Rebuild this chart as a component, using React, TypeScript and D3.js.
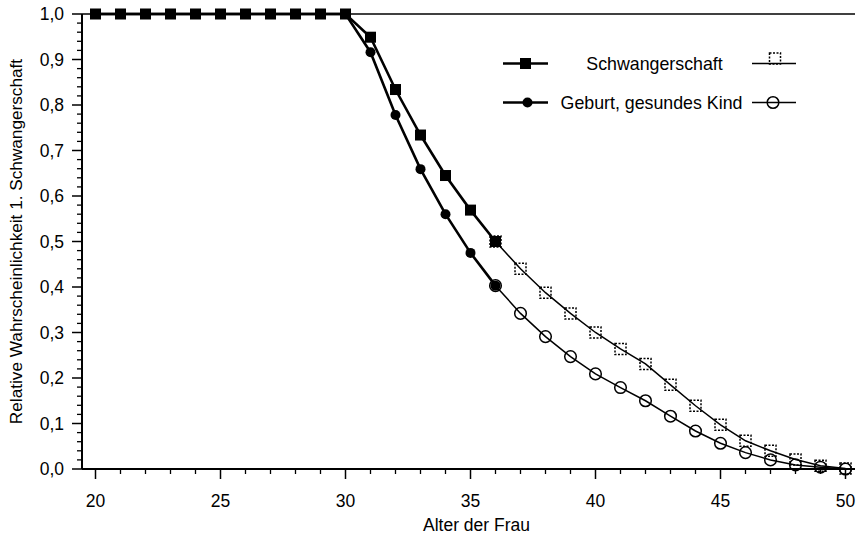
import React from "react";
import * as d3 from "d3";

const ages = [20, 21, 22, 23, 24, 25, 26, 27, 28, 29, 30, 31, 32, 33, 34, 35, 36, 37, 38, 39, 40, 41, 42, 43, 44, 45, 46, 47, 48, 49, 50];
const pregnancy = [1, 1, 1, 1, 1, 1, 1, 1, 1, 1, 1, 0.949, 0.834, 0.734, 0.645, 0.569, 0.5, 0.44, 0.3875, 0.342, 0.3, 0.264, 0.231, 0.185, 0.139, 0.097, 0.062, 0.04, 0.021, 0.007, 0.001];
const birth = [1, 1, 1, 1, 1, 1, 1, 1, 1, 1, 1, 0.916, 0.778, 0.659, 0.56, 0.475, 0.403, 0.342, 0.291, 0.247, 0.209, 0.179, 0.15, 0.116, 0.0835, 0.0565, 0.036, 0.02, 0.009, 0.004, 0.0];
const lastObservedAge = 36;
const xTickValues = [20, 25, 30, 35, 40, 45, 50];
const yTickValues = [0, 0.1, 0.2, 0.3, 0.4, 0.5, 0.6, 0.7, 0.8, 0.9, 1.0];
const legendLabels = ["Schwangerschaft", "Geburt, gesundes Kind"];
const xTitle = "Alter der Frau";
const yTitle = "Relative Wahrscheinlichkeit 1. Schwangerschaft";

const W = 856;
const H = 534;
const FONT = "'Liberation Sans', Arial, sans-serif";

export default function App() {
  const x = d3.scaleLinear().domain([20, 50]).range([95.5, 845.5]);
  const y = d3.scaleLinear().domain([0, 1]).range([469, 14]);
  const axisX = 82;
  const rightEdge = 855;

  type P = { a: number; v: number };
  const mk = (vals: number[]): P[] => ages.map((a, i) => ({ a, v: vals[i] }));
  const pData = mk(pregnancy);
  const bData = mk(birth);
  const solid = (d: P[]) => d.filter((p) => p.a <= lastObservedAge);
  const open = (d: P[]) => d.filter((p) => p.a >= lastObservedAge);

  const line = d3
    .line<P>()
    .x((p) => x(p.a))
    .y((p) => y(p.v));

  const minorY = d3.range(0, 1.0001, 0.02).filter((v) => Math.abs(Math.round(v * 10) - v * 10) > 1e-6);
  const minorX = ages.filter((a) => a % 5 !== 0);

  const sq = 11;
  const fmt = (v: number) => v.toFixed(1).replace(".", ",");

  const openSquare = (cx: number, cy: number, key: string | number) => (
    <rect
      key={key}
      x={cx - 5.5}
      y={cy - 5.5}
      width={11}
      height={11}
      fill="none"
      stroke="#000"
      strokeWidth={1.5}
      strokeDasharray="2,1.5"
    />
  );
  const openCircle = (cx: number, cy: number, key: string | number) => (
    <circle key={key} cx={cx} cy={cy} r={5.8} fill="none" stroke="#000" strokeWidth={1.5} />
  );

  const leg1y = 63.5;
  const leg2y = 102.5;

  return (
    <svg
      width={W}
      height={H}
      style={{ position: "absolute", left: 0, top: 0, background: "#fff" }}
      fontFamily={FONT}
    >
      <rect x={0} y={0} width={W} height={H} fill="#fff" />
      {/* frame lines */}
      <line x1={axisX} x2={rightEdge} y1={y(1)} y2={y(1)} stroke="#000" strokeWidth={1.5} />
      <line x1={axisX} x2={rightEdge} y1={y(0)} y2={y(0)} stroke="#000" strokeWidth={2} />
      <line x1={axisX} x2={axisX} y1={y(1)} y2={y(0)} stroke="#000" strokeWidth={2} />

      {/* y ticks */}
      {yTickValues.map((v) => (
        <g key={"yt" + v}>
          <line x1={axisX - 10} x2={axisX} y1={y(v)} y2={y(v)} stroke="#000" strokeWidth={1.5} />
          <text x={64} y={y(v)} dy="0.35em" textAnchor="end" fontSize={17.5}>
            {fmt(v)}
          </text>
        </g>
      ))}
      {minorY.map((v, i) => (
        <line key={"ym" + i} x1={axisX - 5} x2={axisX} y1={y(v)} y2={y(v)} stroke="#000" strokeWidth={1.3} />
      ))}

      {/* x ticks */}
      {xTickValues.map((a) => (
        <g key={"xt" + a}>
          <line x1={x(a)} x2={x(a)} y1={y(0)} y2={y(0) + 10} stroke="#000" strokeWidth={1.5} />
          <text x={x(a)} y={507} textAnchor="middle" fontSize={17.5}>
            {a}
          </text>
        </g>
      ))}
      {minorX.map((a) => (
        <line key={"xm" + a} x1={x(a)} x2={x(a)} y1={y(0)} y2={y(0) + 5} stroke="#000" strokeWidth={1.3} />
      ))}

      {/* titles */}
      <text x={(x(20) + x(50)) / 2 + 6} y={531} textAnchor="middle" fontSize={17.5}>
        {xTitle}
      </text>
      <text
        transform={`translate(22, ${(y(0) + y(1)) / 2}) rotate(-90)`}
        textAnchor="middle"
        fontSize={17.2}
      >
        {yTitle}
      </text>

      {/* open (extrapolated) parts */}
      <path d={line(open(pData)) || ""} fill="none" stroke="#000" strokeWidth={1.5} />
      <path d={line(open(bData)) || ""} fill="none" stroke="#000" strokeWidth={1.5} />
      {open(pData).map((p) => openSquare(x(p.a), y(p.v), "os" + p.a))}
      {open(bData).map((p) => openCircle(x(p.a), y(p.v), "oc" + p.a))}

      {/* solid (observed) parts */}
      <path d={line(solid(bData)) || ""} fill="none" stroke="#000" strokeWidth={2.6} />
      <path d={line(solid(pData)) || ""} fill="none" stroke="#000" strokeWidth={2.6} />
      {solid(bData).map((p) => (
        <circle key={"fc" + p.a} cx={x(p.a)} cy={y(p.v)} r={5} fill="#000" />
      ))}
      {solid(pData).map((p) => (
        <rect key={"fs" + p.a} x={x(p.a) - sq / 2} y={y(p.v) - sq / 2} width={sq} height={sq} fill="#000" />
      ))}

      {/* legend */}
      <line x1={503} x2={548} y1={leg1y} y2={leg1y} stroke="#000" strokeWidth={2.6} />
      <rect x={525.5 - sq / 2} y={leg1y - sq / 2} width={sq} height={sq} fill="#000" />
      <text x={654.5} y={leg1y} dy="0.35em" textAnchor="middle" fontSize={17.8}>
        {legendLabels[0]}
      </text>
      <line x1={752} x2={796} y1={leg1y} y2={leg1y} stroke="#000" strokeWidth={1.5} />
      {openSquare(775, leg1y - 5, "lsq")}

      <line x1={503} x2={548} y1={leg2y} y2={leg2y} stroke="#000" strokeWidth={2.6} />
      <circle cx={527.5} cy={leg2y} r={5} fill="#000" />
      <text x={651.5} y={leg2y} dy="0.35em" textAnchor="middle" fontSize={17.8}>
        {legendLabels[1]}
      </text>
      <line x1={752} x2={796} y1={leg2y} y2={leg2y} stroke="#000" strokeWidth={1.5} />
      {openCircle(773, leg2y, "lci")}
    </svg>
  );
}
